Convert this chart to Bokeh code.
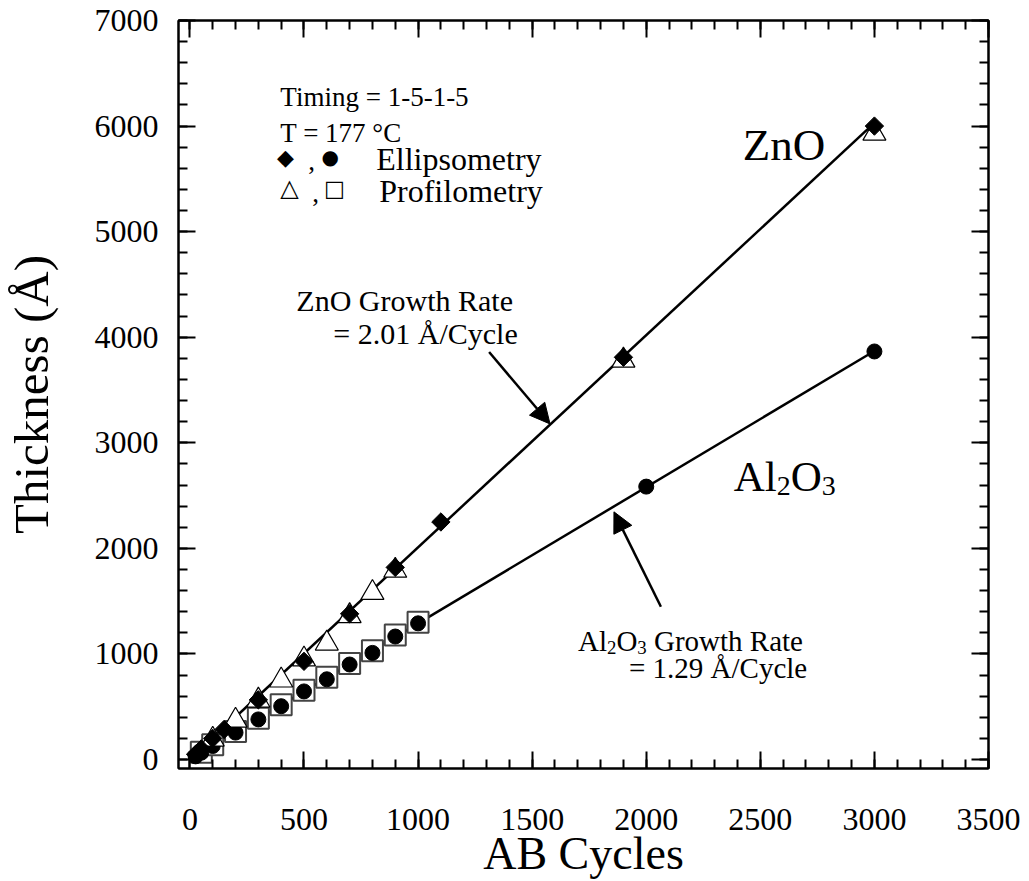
import numpy as np
from bokeh.plotting import figure
from bokeh.models import (Range1d, SingleIntervalTicker, LinearAxis, Label, Arrow,
                          NormalHead, CustomJSTickFormatter)
from bokeh.embed import file_html
from bokeh.resources import INLINE

# ---------------- data ----------------
zno_ell_cycles = [25, 50, 100, 150, 300, 500, 700, 900, 1100, 1900, 3000]
zno_ell_thick = [50, 100, 200, 285, 565, 930, 1380, 1820, 2250, 3810, 6000]
zno_prof_cycles = [100, 200, 300, 400, 500, 600, 700, 800, 900, 1900, 3000]
zno_prof_thick = [190, 370, 560, 750, 950, 1100, 1360, 1580, 1790, 3780, 5930]
al_ell_cycles = [25, 50, 100, 200, 300, 400, 500, 600, 700, 800, 900, 1000, 2000, 3000]
al_ell_thick = [30, 65, 128, 255, 380, 505, 645, 760, 900, 1010, 1165, 1290, 2585, 3865]
al_prof_cycles = [50, 100, 200, 300, 400, 500, 600, 700, 800, 900, 1000]
al_prof_thick = [70, 140, 265, 390, 520, 655, 780, 910, 1030, 1180, 1300]
fit_cycles = [0, 3000]
zno_fit = [0, 6030]
al_fit = [0, 3870]

# ---------------- layout ----------------
W, H = 1029, 881
FL, FR, FT, FB = 177, 988, 20, 769
X0, X1, Y0, Y1 = -50, 3500, -85, 7000


def dx(px):
    return X0 + (px - FL) / (FR - FL) * (X1 - X0)


def dy(py):
    return Y1 - (py - FT) / (FB - FT) * (Y1 - Y0)


SERIF = "Liberation Serif"

p = figure(width=W, height=H, x_range=Range1d(X0, X1), y_range=Range1d(Y0, Y1),
           output_backend="svg", toolbar_location=None,
           x_axis_location=None, y_axis_location=None,
           min_border_left=FL, min_border_right=W - FR,
           min_border_top=FT, min_border_bottom=H - FB)
p.xgrid.visible = False
p.ygrid.visible = False
p.outline_line_color = "black"
p.outline_line_width = 2
p.background_fill_color = "white"
p.border_fill_color = "white"

xax = LinearAxis(ticker=SingleIntervalTicker(interval=500, num_minor_ticks=5))
yax = LinearAxis(ticker=SingleIntervalTicker(interval=1000, num_minor_ticks=5))
top = LinearAxis(ticker=SingleIntervalTicker(interval=500, num_minor_ticks=5))
right = LinearAxis(ticker=SingleIntervalTicker(interval=1000, num_minor_ticks=5))
p.add_layout(xax, "below")
p.add_layout(yax, "left")
p.add_layout(top, "above")
p.add_layout(right, "right")

for ax in [xax, yax, top, right]:
    ax.axis_line_width = 2
    ax.axis_line_color = "black"
    ax.major_tick_in = 17
    ax.major_tick_out = 0
    ax.minor_tick_in = 9
    ax.minor_tick_out = 0
    ax.major_tick_line_width = 2
    ax.minor_tick_line_width = 2
    ax.major_tick_line_color = "black"
    ax.minor_tick_line_color = "black"
    ax.major_label_text_font = SERIF
    ax.major_label_text_font_size = "32px"
    ax.major_label_text_color = "black"

for ax in [top, right]:
    ax.formatter = CustomJSTickFormatter(code="return ''")
    ax.major_label_standoff = 0
    ax.major_label_text_font_size = "1px"

xax.major_label_standoff = 40
yax.major_label_standoff = 20
xax.axis_label = "AB Cycles"
yax.axis_label = "Thickness (Å)"
for ax in [xax, yax]:
    ax.axis_label_text_font = SERIF
    ax.axis_label_text_font_style = "normal"
    ax.axis_label_text_color = "black"
xax.axis_label_text_font_size = "46px"
yax.axis_label_text_font_size = "49px"
xax.axis_label_standoff = -5
yax.axis_label_standoff = 33

# ---------------- fit lines ----------------
p.line(fit_cycles, zno_fit, line_color="black", line_width=2.5)
p.line(fit_cycles, al_fit, line_color="black", line_width=2.5)

# ---------------- markers ----------------
p.scatter(al_prof_cycles, al_prof_thick, marker="square", size=21,
          fill_color="white", line_color="#444444", line_width=2)
p.scatter(al_ell_cycles, al_ell_thick, marker="circle", size=15,
          fill_color="black", line_color="black")
p.scatter(zno_prof_cycles, zno_prof_thick, marker="triangle", size=23,
          fill_color="white", line_color="black", line_width=1.2)
p.scatter(zno_ell_cycles, zno_ell_thick, marker="square", size=13, angle=np.pi / 4,
          fill_color="black", line_color="black")

# ---------------- arrows ----------------
p.add_layout(Arrow(end=NormalHead(size=20, fill_color="black", line_color="black"),
                   x_start=dx(488), y_start=dy(352), x_end=dx(549), y_end=dy(424),
                   line_width=2.5, line_color="black"))
p.add_layout(Arrow(end=NormalHead(size=20, fill_color="black", line_color="black"),
                   x_start=dx(660), y_start=dy(607), x_end=dx(613), y_end=dy(512),
                   line_width=2.5, line_color="black"))


# ---------------- texts ----------------
def txt(s, px, py, size, font=SERIF, align="left", baseline="middle"):
    p.add_layout(Label(x=dx(px), y=dy(py), text=s, text_font=font,
                       text_font_size=f"{size}px", text_color="black",
                       text_align=align, text_baseline=baseline))


txt("Timing = 1-5-1-5", 279, 97, 27)
txt("T = 177 °C", 279, 133, 27)
txt("Ellipsometry", 375, 159, 32)
txt("Profilometry", 378, 191, 32)
txt("◆", 284, 157, 22, font="DejaVu Sans", align="center")
txt(",", 307, 161, 27)
txt("●", 329, 157, 20, font="DejaVu Sans", align="center")
txt("△", 288, 188, 24, font="DejaVu Sans", align="center")
txt(",", 311, 193, 27)
txt("□", 333, 188, 22, font="DejaVu Sans", align="center")

txt("ZnO", 742, 145, 45)
txt("ZnO Growth Rate", 295, 300, 30)
txt("= 2.01 Å/Cycle", 332, 333, 30)


def chem(px, base_py, F, tail=""):
    s = 0.65 * F
    x = px
    txt("Al", x, base_py, F, baseline="alphabetic")
    x += 1.0 * F
    txt("2", x, base_py + 0.22 * F, s, baseline="alphabetic")
    x += 0.5 * s
    txt("O", x, base_py, F, baseline="alphabetic")
    x += 0.722 * F
    txt("3", x, base_py + 0.22 * F, s, baseline="alphabetic")
    x += 0.5 * s
    if tail:
        txt(tail, x + 0.25 * F, base_py, F, baseline="alphabetic")


chem(733, 477, 43)
chem(577, 641, 29, "Growth Rate")
txt("= 1.29 Å/Cycle", 628, 668, 29)

open("out.html", "w").write(file_html(p, INLINE))
